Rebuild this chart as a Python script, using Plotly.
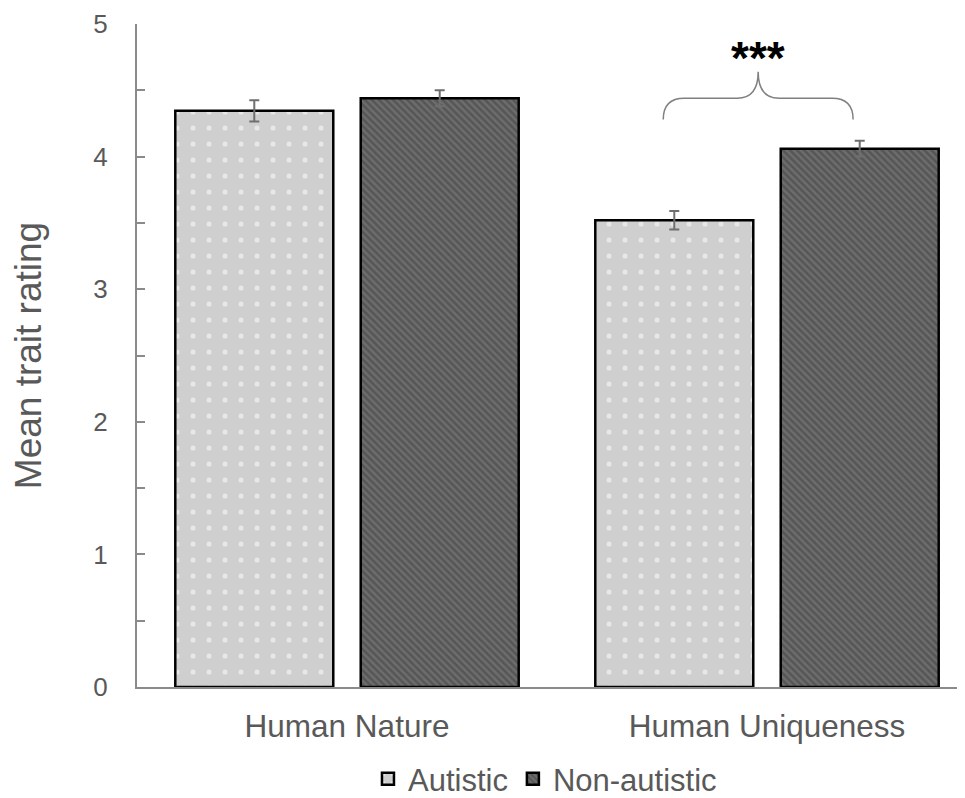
import plotly.graph_objects as go

categories = ["Human Nature", "Human Uniqueness"]
autistic = [4.345, 3.52]
autistic_err = [0.08, 0.07]
non_autistic = [4.44, 4.06]
non_autistic_err = [0.06, 0.06]
y_ticks = [0, 1, 2, 3, 4, 5]
sig_label = "***"

x = list(range(len(categories)))
font = "Liberation Sans, Arial, sans-serif"
grey_txt = "#595959"
axis_grey = "#8a8a8a"

fig = go.Figure()
fig.add_trace(go.Bar(
    name="Autistic", x=x, y=autistic,
    error_y=dict(type="data", array=autistic_err, color="#6f6f6f", thickness=2, width=5),
    marker=dict(color="#d0cfd0", line=dict(color="#000000", width=2.5),
                pattern=dict(shape=".", fgcolor="#ffffff", bgcolor="#d0cfd0", size=16, solidity=0.08)),
))
fig.add_trace(go.Bar(
    name="Non-autistic", x=x, y=non_autistic,
    error_y=dict(type="data", array=non_autistic_err, color="#6f6f6f", thickness=2, width=5),
    marker=dict(color="#6a6a6a", line=dict(color="#000000", width=2.5),
                pattern=dict(shape="\\", fgcolor="#838383", bgcolor="#565656", size=5, solidity=0.5)),
))

# significance brace over Human Uniqueness
xc = x[1] - 0.021
hw = 0.226
dx = 0.05
y0, yh, yt = 4.28, 4.44, 4.64
path = (f"M {xc-hw},{y0} Q {xc-hw},{yh} {xc-hw+dx},{yh} L {xc-dx},{yh} "
        f"Q {xc},{yh} {xc},{yt} Q {xc},{yh} {xc+dx},{yh} L {xc+hw-dx},{yh} "
        f"Q {xc+hw},{yh} {xc+hw},{y0}")
fig.add_shape(type="path", path=path, xref="x", yref="y",
              line=dict(color="#808080", width=1.5))
fig.add_annotation(x=xc, y=4.745, xref="x", yref="y", text=f"<b>{sig_label}</b>",
                   showarrow=False, font=dict(size=46, color="#000000", family=font))

fig.update_layout(
    width=965, height=798,
    margin=dict(l=129, r=0, t=16, b=118),
    paper_bgcolor="white", plot_bgcolor="white",
    barmode="group", bargap=0.117, bargroupgap=0.148,
    font=dict(family=font, color=grey_txt),
    showlegend=True,
    legend=dict(orientation="h", x=0.488, xanchor="center", y=-0.139, yanchor="middle",
                xref="paper", font=dict(size=31, color=grey_txt),
                itemwidth=30, traceorder="normal"),
    xaxis=dict(range=[-0.5, -0.5 + 836/420], tickvals=x, ticktext=categories,
               showline=True, linecolor=axis_grey, linewidth=2, ticks="",
               showgrid=False, zeroline=False, ticklabelstandoff=10,
               tickfont=dict(size=31.5, color=grey_txt)),
    yaxis=dict(range=[0, 5], tickvals=y_ticks, showline=True, linecolor=axis_grey,
               linewidth=2, ticks="inside", ticklen=8, tickwidth=2, tickcolor=axis_grey,
               showgrid=False, zeroline=False, ticklabelstandoff=22,
               minor=dict(dtick=0.5, ticks="inside", ticklen=8, tickwidth=2, tickcolor=axis_grey),
               tickfont=dict(size=26, color=grey_txt),
               title=dict(text="Mean trait rating", font=dict(size=37, color=grey_txt), standoff=40)),
)

fig.write_html("out.html")
